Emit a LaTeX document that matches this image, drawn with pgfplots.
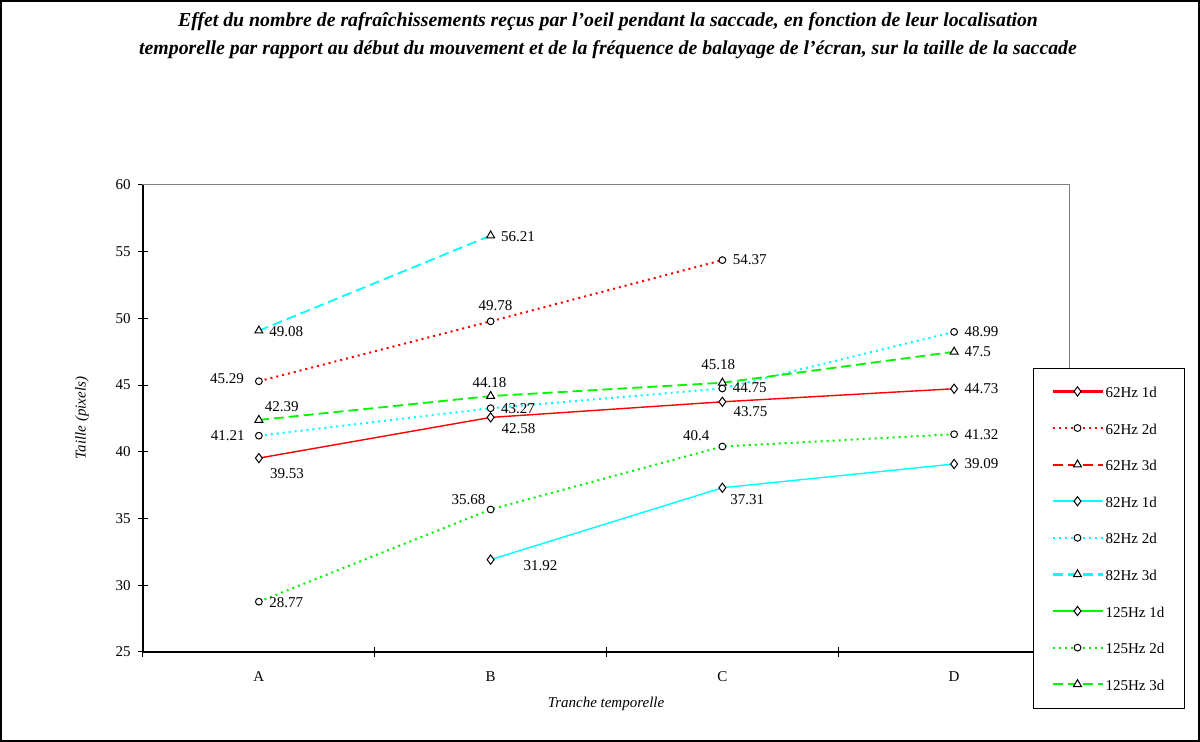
\documentclass[border=0pt]{standalone}
\usepackage{fontspec}
\setmainfont{Liberation Serif}
\usepackage{pgfplots}
\pgfplotsset{compat=1.18}
\definecolor{xred}{RGB}{255,0,0}
\definecolor{xcyan}{RGB}{0,255,255}
\definecolor{xgreen}{RGB}{0,245,0}
\definecolor{frame}{RGB}{128,128,128}
\tikzset{
  lab/.style={font=\fontsize{7.5}{9}\selectfont, inner sep=0pt},
  rl/.style={lab, anchor=west, xshift=5pt},
}
\pgfplotsset{
  mkx/.style={mark options={solid, draw=black, fill=white, line width=0.5pt}},
  serone/.style={solid, line width=0.7pt, mark=diamond*, mark size=2.3pt, mkx},
  sertwo/.style={line width=1pt, dash pattern=on 1pt off 2pt, mark=*, mark size=1.7pt, mkx},
  serthree/.style={line width=0.9pt, dash pattern=on 5pt off 2.5pt, mark=triangle*, mark size=2.3pt, mkx},
}
\begin{document}
\begin{tikzpicture}[x=1pt,y=1pt]
\useasboundingbox (0,0) rectangle (600,371);
\draw[line width=0.8pt] (0.4,0.4) rectangle (599.6,370.6);
\node[align=center, font=\fontsize{9.9}{14}\selectfont\bfseries\itshape] at (304,353)
  {Effet du nombre de rafraîchissements reçus par l'oeil pendant la saccade, en fonction de leur localisation\\
   temporelle par rapport au début du mouvement et de la fréquence de balayage de l'écran, sur la taille de la saccade};
\node[rotate=90, font=\fontsize{7.5}{9}\selectfont\itshape] at (41,162) {Taille (pixels)};
\node[font=\fontsize{7.5}{9}\selectfont\itshape] at (303,19) {Tranche temporelle};
\begin{axis}[
  at={(71.5pt,45pt)}, anchor=south west, scale only axis,
  width=463.5pt, height=233.5pt,
  xmin=-0.5, xmax=3.5, ymin=25, ymax=60,
  axis line style={draw=frame, line width=0.5pt},
  tick pos=left,
  xtick={0,1,2,3}, xticklabels={A,B,C,D},
  xtick style={draw=none},
  minor xtick={-0.5,0.5,1.5,2.5,3.5},
  minor x tick style={draw=black, line width=0.5pt},
  minor tick length=5pt,
  ytick={25,30,...,60},
  ytick style={draw=black, line width=0.5pt},
  major tick length=5pt,
  tick align=center,
  /pgf/number format/assume math mode=true,
  ticklabel style={font=\fontsize{7.5}{9}\selectfont},
  yticklabel style={inner sep=0pt, xshift=-3.5pt},
  xticklabel style={inner sep=0pt, yshift=-7pt},
  legend image code/.code={%
    \draw[#1, mark=none, line width=1.1pt] (0pt,0.25pt) -- (25pt,0.25pt);
    \draw[#1, only marks] plot coordinates {(12.5pt,0.25pt)};},
  legend style={at={(0.9601,0.6081)}, anchor=north west, fill=white,
    font=\fontsize{7.5}{9}\selectfont, inner xsep=9pt, inner ysep=8pt, row sep=10.8pt,
    nodes={inner sep=1pt, text height=5.5pt, text depth=0pt}},
  legend cell align=left,
  clip=false,
]
\draw[black, line width=0.6pt] (rel axis cs:0,1) -- (rel axis cs:0,0) -- (rel axis cs:1,0);
% legend (two series have no points in the chart)
\addlegendimage{serone, xred}     \addlegendentry{62Hz 1d}
\addlegendimage{sertwo, xred}     \addlegendentry{62Hz 2d}
\addlegendimage{serthree, xred}   \addlegendentry{62Hz 3d}
\addlegendimage{serone, xcyan}    \addlegendentry{82Hz 1d}
\addlegendimage{sertwo, xcyan}    \addlegendentry{82Hz 2d}
\addlegendimage{serthree, xcyan}  \addlegendentry{82Hz 3d}
\addlegendimage{serone, xgreen}   \addlegendentry{125Hz 1d}
\addlegendimage{sertwo, xgreen}   \addlegendentry{125Hz 2d}
\addlegendimage{serthree, xgreen} \addlegendentry{125Hz 3d}
% 62Hz 1d
\addplot[serone, xred, forget plot] coordinates {(0,39.53) (1,42.58) (2,43.75) (3,44.73)};
% 62Hz 2d
\addplot[sertwo, xred, forget plot] coordinates {(0,45.29) (1,49.78) (2,54.37)};
% 82Hz 1d
\addplot[serone, xcyan, forget plot] coordinates {(1,31.92) (2,37.31) (3,39.09)};
% 82Hz 2d
\addplot[sertwo, xcyan, forget plot] coordinates {(0,41.21) (1,43.27) (2,44.75) (3,48.99)};
% 82Hz 3d
\addplot[serthree, xcyan, forget plot] coordinates {(0,49.08) (1,56.21)};
% 125Hz 2d
\addplot[sertwo, xgreen, forget plot] coordinates {(0,28.77) (1,35.68) (2,40.4) (3,41.32)};
% 125Hz 3d
\addplot[serthree, xgreen, forget plot] coordinates {(0,42.39) (1,44.18) (2,45.18) (3,47.5)};
% data labels
\node[lab, xshift=14pt, yshift=-8pt] at (axis cs:0,39.53) {39.53};
\node[lab, xshift=14pt, yshift=-5.5pt] at (axis cs:1,42.58) {42.58};
\node[lab, xshift=14pt, yshift=-5pt] at (axis cs:2,43.75) {43.75};
\node[rl] at (axis cs:3,44.73) {44.73};
\node[lab, xshift=-16pt, yshift=1.5pt] at (axis cs:0,45.29) {45.29};
\node[lab, xshift=2.5pt, yshift=8pt] at (axis cs:1,49.78) {49.78};
\node[rl] at (axis cs:2,54.37) {54.37};
\node[lab, xshift=25pt, yshift=-3pt] at (axis cs:1,31.92) {31.92};
\node[lab, xshift=12.5pt, yshift=-6pt] at (axis cs:2,37.31) {37.31};
\node[rl] at (axis cs:3,39.09) {39.09};
\node[lab, xshift=-15.5pt] at (axis cs:0,41.21) {41.21};
\node[rl] at (axis cs:1,43.27) {43.27};
\node[rl, yshift=0.5pt] at (axis cs:2,44.75) {44.75};
\node[rl] at (axis cs:3,48.99) {48.99};
\node[rl, yshift=-0.5pt] at (axis cs:0,49.08) {49.08};
\node[rl, yshift=-0.5pt] at (axis cs:1,56.21) {56.21};
\node[rl, yshift=-0.5pt] at (axis cs:0,28.77) {28.77};
\node[lab, xshift=-11pt, yshift=5pt] at (axis cs:1,35.68) {35.68};
\node[lab, xshift=-13pt, yshift=5.5pt] at (axis cs:2,40.4) {40.4};
\node[rl] at (axis cs:3,41.32) {41.32};
\node[lab, xshift=11.5pt, yshift=6.5pt] at (axis cs:0,42.39) {42.39};
\node[lab, xshift=-0.5pt, yshift=6.5pt] at (axis cs:1,44.18) {44.18};
\node[lab, xshift=-2pt, yshift=9pt] at (axis cs:2,45.18) {45.18};
\node[rl] at (axis cs:3,47.5) {47.5};
\end{axis}
\end{tikzpicture}
\end{document}
